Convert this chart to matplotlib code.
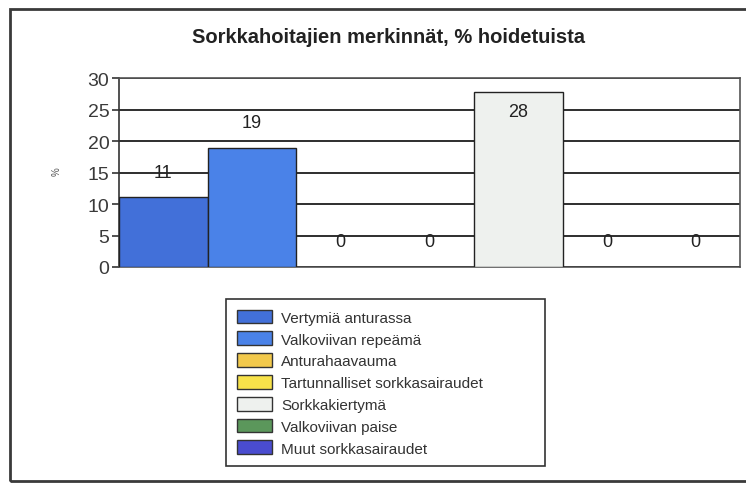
import matplotlib.pyplot as plt
from matplotlib.patches import Patch, Rectangle
import numpy as np

plt.rcParams['font.family'] = ['Liberation Sans', 'DejaVu Sans']

# one bar per finding
names = ['Vertymiä anturassa', 'Valkoviivan repeämä', 'Anturahaavauma',
         'Tartunnalliset sorkkasairaudet', 'Sorkkakiertymä',
         'Valkoviivan paise', 'Muut sorkkasairaudet']
percent = [11.1, 18.9, 0, 0, 27.7, 0, 0]
colors = ['#4270d9', '#4a82e8', '#f2c94c', '#f7e24a', '#eef1ee',
          '#5b975b', '#4a4ccf']
yticks = [0, 5, 10, 15, 20, 25, 30]

fig = plt.figure(figsize=(7.46, 4.85), dpi=100)
fig.patch.set_facecolor('white')

# scanned outer frame
fig.add_artist(Rectangle((10/746, 1-482/485), 1.0, (482-10)/485,
                         transform=fig.transFigure, fill=False,
                         edgecolor='#3a3a3a', linewidth=2))

ax = fig.add_axes([119/746, 1-268/485, (740-119)/746, (268-79)/485])
index = np.arange(len(names))
rects = ax.bar(index, percent, width=1.0, color=colors,
               edgecolor='#222222', linewidth=1.0, zorder=3)

ax.set_xlim(-0.5, len(names)-0.5)
ax.set_ylim(0, 30)
ax.set_yticks(yticks)
ax.set_xticks([])
ax.yaxis.grid(True, color='#1e1e1e', linewidth=1.3, zorder=0)
ax.set_axisbelow(True)
ax.tick_params(axis='y', direction='out', length=5, width=1.2,
               color='#333333', labelcolor='#3a3a3a', labelsize=14, pad=2)
for s in ax.spines.values():
    s.set_color('#555555')
    s.set_linewidth(1.2)
ax.spines['left'].set_color('#333333')

for rect, v in zip(rects, percent):
    x = rect.get_x() + rect.get_width()/2.
    off = 18 if v + 5 < 30 else -14
    ax.annotate('%.0f' % v, (x, v), xytext=(0, off),
                textcoords='offset points', ha='center', va='center',
                fontsize=13, color='#222222', zorder=5)

fig.text(0.521, 1-38/485, 'Sorkkahoitajien merkinnät, % hoidetuista',
         ha='center', va='center', fontsize=14.5, fontweight='bold',
         color='#222222')
fig.text(57/746, 1-172/485, '%', rotation=90, ha='center', va='center',
         fontsize=7, color='#555555')

handles = [Patch(facecolor=c, edgecolor='#333333', linewidth=1) for c in colors]
leg = fig.legend(handles, names, loc='upper left', mode='expand',
                 bbox_to_anchor=(226/746, 0.03, (545-226)/746, 1-300/485-0.03),
                 fontsize=11, frameon=True, fancybox=False, framealpha=1,
                 edgecolor='#333333', handlelength=2.3, handleheight=1.0,
                 labelspacing=0.44, handletextpad=0.6, borderpad=0.7,
                 borderaxespad=0)
leg.get_frame().set_linewidth(1.2)
for t in leg.get_texts():
    t.set_color('#333333')

plt.savefig('out.png', dpi=100, facecolor='white')
